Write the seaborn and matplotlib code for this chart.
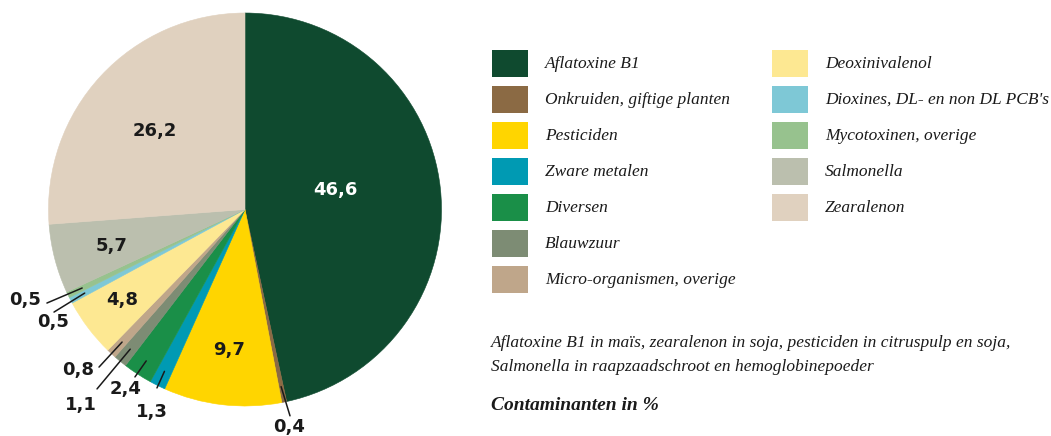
import numpy as np
import matplotlib
matplotlib.use("Agg")
import matplotlib.pyplot as plt
import seaborn as sns

categorieen = ["Aflatoxine B1", "Onkruiden, giftige planten", "Pesticiden", "Zware metalen",
               "Diversen", "Blauwzuur", "Micro-organismen, overige", "Deoxinivalenol",
               "Dioxines, DL- en non DL PCB's", "Mycotoxinen, overige", "Salmonella", "Zearalenon"]
percentages = [46.6, 0.4, 9.7, 1.3, 2.4, 1.1, 0.8, 4.8, 0.5, 0.5, 5.7, 26.2]
kleuren = ["#0f4a2f", "#8b6a44", "#ffd500", "#009ab3", "#1a8f48", "#7d8c74",
           "#bfa68a", "#fde892", "#7ec8d6", "#97c28e", "#bbbfae", "#e0d1bf"]
label_teksten = ["46,6", "0,4", "9,7", "1,3", "2,4", "1,1", "0,8", "4,8", "0,5", "0,5", "5,7", "26,2"]

# plaats van de labels (in straal-eenheden), None = geen lijntje
label_pos = [(0.458, 0.099), (0.224, -1.108), (-0.081, -0.715), (-0.473, -1.031),
             (-0.606, -0.913), (-0.835, -0.995), (-0.850, -0.817), (-0.626, -0.461),
             (-0.977, -0.573), (-1.120, -0.461), (-0.677, -0.186), (-0.458, 0.400)]
lijn_eind = [None, (0.229, -1.050), None, (-0.448, -0.908),
             (-0.560, -0.852), (-0.753, -0.913), (-0.743, -0.802), None,
             (-0.972, -0.522), (-1.008, -0.476), None, None]

sns.set_style("white")
tekstkleur = "#1a1a1a"

fig = plt.figure(figsize=(10.51, 4.36), dpi=100)
W, H = 1051, 436
cx, cy, r = 245, 209.5, 196.5
ax = fig.add_axes([(cx - r) / W, (H - cy - r) / H, 2 * r / W, 2 * r / H])
wedges, _ = ax.pie(percentages, colors=kleuren, startangle=90, counterclock=False,
                   radius=1, wedgeprops=dict(linewidth=0.4))
for w, k in zip(wedges, kleuren):
    w.set_edgecolor(k)
ax.set_xlim(-1, 1)
ax.set_ylim(-1, 1)
ax.axis("off")

################################
# labels
for i, w in enumerate(wedges):
    hoek = np.deg2rad((w.theta1 + w.theta2) / 2)
    kleur = "white" if i == 0 else tekstkleur
    if lijn_eind[i] is not None:
        x0, y0 = 0.92 * np.cos(hoek), 0.92 * np.sin(hoek)
        ax.plot([x0, lijn_eind[i][0]], [y0, lijn_eind[i][1]], color=tekstkleur,
                lw=1.1, clip_on=False)
    ax.text(label_pos[i][0], label_pos[i][1], label_teksten[i], ha="center", va="center",
            fontsize=13, fontweight="bold", family="DejaVu Sans", color=kleur,
            clip_on=False)

################################
# legenda
serif = "Liberation Serif"
for i, (naam, kleur) in enumerate(zip(categorieen, kleuren)):
    kol, rij = (0, i) if i < 7 else (1, i - 7)
    x_sw = 492 if kol == 0 else 772
    y_top = 50 + rij * 36
    fig.add_artist(plt.Rectangle((x_sw / W, (H - y_top - 27) / H), 36 / W, 27 / H,
                                 facecolor=kleur, edgecolor="none", transform=fig.transFigure))
    fig.text((x_sw + 53) / W, (H - y_top - 13.5) / H, naam, ha="left", va="center",
             fontsize=12.5, style="italic", family=serif, color=tekstkleur)

fig.text(491 / W, (H - 343) / H,
         "Aflatoxine B1 in maïs, zearalenon in soja, pesticiden in citruspulp en soja,",
         ha="left", va="center", fontsize=12.5, style="italic", family=serif, color=tekstkleur)
fig.text(491 / W, (H - 367) / H,
         "Salmonella in raapzaadschroot en hemoglobinepoeder",
         ha="left", va="center", fontsize=12.5, style="italic", family=serif, color=tekstkleur)
fig.text(491 / W, (H - 405) / H, "Contaminanten in %", ha="left", va="center",
         fontsize=14, style="italic", fontweight="bold", family=serif, color=tekstkleur)

plt.savefig("out.png", dpi=100)
